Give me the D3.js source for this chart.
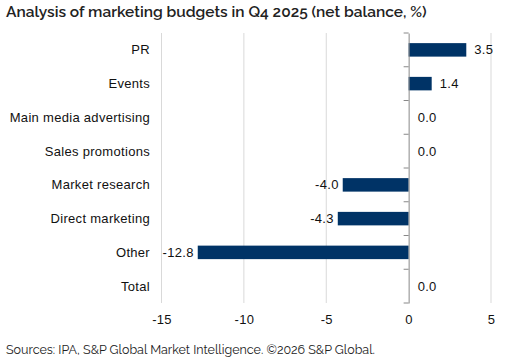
<!DOCTYPE html>
<html>
<head>
<meta charset="utf-8">
<script src="https://cdn.jsdelivr.net/npm/d3@7"></script>
<style>
  body { margin: 0; background: #fff; }
  svg { display: block; }
</style>
</head>
<body>
<svg id="chart" width="516" height="363"></svg>
<script>
const categories = ["PR", "Events", "Main media advertising", "Sales promotions",
  "Market research", "Direct marketing", "Other", "Total"];
const values = [3.5, 1.4, 0.0, 0.0, -4.0, -4.3, -12.8, 0.0];
const xTicks = [-15, -10, -5, 0, 5];

const width = 516, height = 363;
const margin = { top: 33, right: 25, bottom: 60, left: 161.5 };
const labelFont = "'Liberation Sans', Arial, sans-serif";

const svg = d3.select("#chart");

const x = d3.scaleLinear()
  .domain([-15, 5])
  .range([margin.left, width - margin.right]);

const y = d3.scaleBand()
  .domain(categories)
  .range([margin.top, height - margin.bottom])
  .paddingInner(0.6)
  .paddingOuter(0.3);

const yb = d3.scaleBand().domain(categories).range([margin.top, height - margin.bottom]);

// title
svg.append("text")
  .attr("x", 6).attr("y", 17)
  .attr("font-family", "Raleway, 'Open Sans', sans-serif")
  .attr("font-size", 15.5).attr("font-weight", 600)
  .attr("fill", "#222")
  .text("Analysis of marketing budgets in Q4 2025 (net balance, %)");

// gridlines
svg.append("g")
  .selectAll("line")
  .data(xTicks.filter(d => d !== 0))
  .join("line")
  .attr("x1", d => x(d)).attr("x2", d => x(d))
  .attr("y1", margin.top).attr("y2", height - margin.bottom)
  .attr("stroke", "#d9d9d9").attr("stroke-width", 1);

// x axis
const xAxis = svg.append("g")
  .attr("transform", `translate(0,${height - margin.bottom})`)
  .call(d3.axisBottom(x).tickValues(xTicks).tickFormat(d => String(d)).tickSize(0).tickPadding(12));
xAxis.select(".domain").remove();
xAxis.selectAll("text")
  .attr("font-family", labelFont)
  .attr("font-size", 13).attr("letter-spacing", 0.3).attr("fill", "#111");

// bars
svg.append("g")
  .selectAll("rect")
  .data(values)
  .join("rect")
  .attr("x", d => x(Math.min(0, d)))
  .attr("width", d => Math.abs(x(d) - x(0)))
  .attr("y", (d, i) => y(categories[i]))
  .attr("height", y.bandwidth())
  .attr("fill", "#003366");

// zero axis with ticks at band boundaries
const zeroAxis = svg.append("g")
  .attr("transform", `translate(${x(0)},0)`)
  .call(d3.axisLeft(yb).tickSize(0).tickFormat(""));
zeroAxis.select(".domain").attr("stroke", "#888");
const bounds = categories.map(c => yb(c)).concat([height - margin.bottom]);
zeroAxis.selectAll(".bound")
  .data(bounds)
  .join("line")
  .attr("class", "bound")
  .attr("x1", -5).attr("x2", 0)
  .attr("y1", d => d).attr("y2", d => d)
  .attr("stroke", "#888");

// category labels
svg.append("g")
  .selectAll("text")
  .data(categories)
  .join("text")
  .attr("x", 150)
  .attr("y", d => yb(d) + yb.bandwidth() / 2)
  .attr("dy", "0.35em")
  .attr("text-anchor", "end")
  .attr("font-family", labelFont)
  .attr("font-size", 13).attr("letter-spacing", 0.3).attr("fill", "#111")
  .text(d => d);

// value labels
svg.append("g")
  .selectAll("text")
  .data(values)
  .join("text")
  .attr("x", d => d < 0 ? x(d) - 4 : (d > 0 ? x(d) + 8 : x(0) + 9))
  .attr("y", (d, i) => yb(categories[i]) + yb.bandwidth() / 2)
  .attr("dy", "0.35em")
  .attr("text-anchor", d => d < 0 ? "end" : "start")
  .attr("font-family", labelFont)
  .attr("font-size", 13).attr("letter-spacing", 0.3).attr("fill", "#111")
  .text(d => d.toFixed(1));

// footer
svg.append("text")
  .attr("x", 6).attr("y", 354)
  .attr("font-family", "Raleway, 'Open Sans', sans-serif")
  .attr("font-size", 12.5)
  .attr("fill", "#222")
  .text("Sources: IPA, S&P Global Market Intelligence. \u00A92026 S&P Global.");
</script>
</body>
</html>
